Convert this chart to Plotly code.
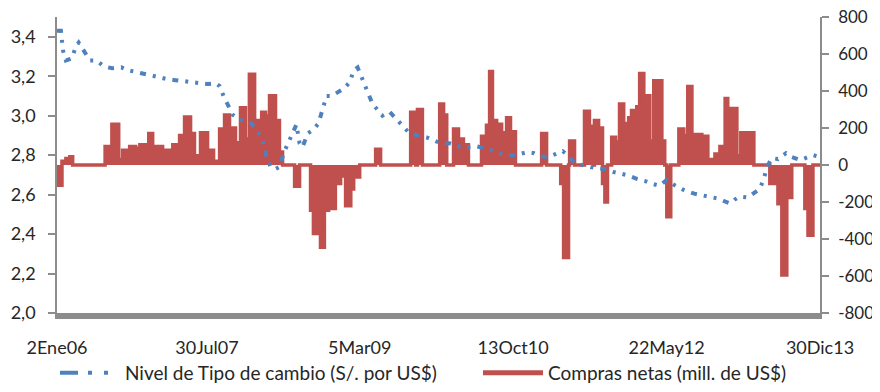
import plotly.graph_objects as go

# ---------------- DATA ----------------
# Exchange rate level (S/. per US$)
fecha_tc = [
    "2006-01-02", "2006-01-17", "2006-01-25", "2006-02-05", "2006-02-28", "2006-03-15", "2006-03-26",
    "2006-04-14", "2006-05-08", "2006-05-31", "2006-07-01", "2006-08-01", "2006-09-05", "2006-10-02",
    "2006-11-01", "2006-12-02", "2007-01-01", "2007-01-30", "2007-03-01", "2007-03-31", "2007-05-01",
    "2007-06-01", "2007-07-02", "2007-08-01", "2007-09-01", "2007-09-16", "2007-10-01", "2007-10-17",
    "2007-11-05", "2007-12-02", "2008-01-01", "2008-01-16", "2008-02-08", "2008-02-27", "2008-03-14",
    "2008-03-29", "2008-04-17", "2008-05-02", "2008-05-18", "2008-06-06", "2008-06-25", "2008-07-06",
    "2008-07-18", "2008-07-29", "2008-08-18", "2008-09-09", "2008-09-28", "2008-10-14", "2008-10-29",
    "2008-11-18", "2008-12-14", "2009-01-06", "2009-01-26", "2009-02-10", "2009-02-25", "2009-03-08",
    "2009-03-16", "2009-04-04", "2009-04-23", "2009-05-12", "2009-05-31", "2009-06-27", "2009-07-24",
    "2009-08-16", "2009-09-12", "2009-10-13", "2009-11-16", "2009-12-13", "2010-01-09", "2010-02-12",
    "2010-03-15", "2010-04-19", "2010-05-24", "2010-06-27", "2010-08-04", "2010-09-11", "2010-10-20",
    "2010-12-05", "2011-01-01", "2011-01-23", "2011-02-22", "2011-04-02", "2011-04-21", "2011-05-10",
    "2011-05-29", "2011-06-17", "2011-07-14", "2011-08-21", "2011-09-29", "2011-10-29", "2011-12-03",
    "2012-01-01", "2012-01-29", "2012-02-28", "2012-03-27", "2012-04-26", "2012-05-23", "2012-06-19",
    "2012-07-24", "2012-09-05", "2012-10-28", "2012-12-06", "2013-01-01", "2013-01-19", "2013-02-07",
    "2013-02-26", "2013-03-29", "2013-04-24", "2013-05-14", "2013-05-29", "2013-06-10", "2013-06-29",
    "2013-07-22", "2013-08-22", "2013-09-14", "2013-10-15", "2013-11-15", "2013-12-04", "2013-12-30",
]
tipo_cambio = [
    3.43, 3.43, 3.33, 3.28, 3.29, 3.35, 3.37,
    3.33, 3.28, 3.28, 3.25, 3.24, 3.245, 3.23,
    3.22, 3.21, 3.20, 3.19, 3.185, 3.18, 3.175,
    3.17, 3.165, 3.16, 3.165, 3.15, 3.10, 3.06,
    3.005, 2.98, 2.97, 2.96, 2.92, 2.88, 2.79,
    2.74, 2.73, 2.74, 2.81, 2.87, 2.92, 2.955,
    2.86, 2.84, 2.91, 2.93, 2.96, 3.04, 3.10,
    3.10, 3.12, 3.14, 3.17, 3.23, 3.245, 3.21,
    3.19, 3.13, 3.06, 3.03, 3.00, 3.02, 2.98,
    2.95, 2.91, 2.90, 2.89, 2.875, 2.86, 2.86,
    2.845, 2.84, 2.845, 2.835, 2.82, 2.80, 2.80,
    2.815, 2.81, 2.795, 2.79, 2.81, 2.82, 2.80,
    2.77, 2.755, 2.745, 2.735, 2.73, 2.715, 2.705,
    2.695, 2.68, 2.67, 2.655, 2.645, 2.675, 2.65,
    2.625, 2.605, 2.59, 2.58, 2.565, 2.555, 2.575,
    2.59, 2.585, 2.61, 2.63, 2.68, 2.74, 2.785,
    2.78, 2.81, 2.79, 2.775, 2.79, 2.80, 2.79,
]

# Net purchases (mill. US$): value holds from each date until the next one
fecha_compras = [
    "2006-01-02", "2006-01-21", "2006-02-05", "2006-02-20", "2006-03-03", "2006-07-05", "2006-07-31",
    "2006-08-26", "2006-09-10", "2006-09-30", "2006-10-07", "2006-10-30", "2006-11-15", "2006-12-11",
    "2006-12-19", "2007-01-03", "2007-02-10", "2007-03-21", "2007-04-16", "2007-05-05", "2007-05-28",
    "2007-06-12", "2007-07-05", "2007-08-01", "2007-08-24", "2007-09-16", "2007-10-05", "2007-10-24",
    "2007-11-16", "2007-12-05", "2007-12-24", "2008-01-08", "2008-01-28", "2008-02-16", "2008-02-24",
    "2008-03-10", "2008-03-25", "2008-04-17", "2008-05-02", "2008-05-14", "2008-06-29", "2008-07-18",
    "2008-08-29", "2008-09-09", "2008-10-06", "2008-10-21", "2008-11-06", "2008-12-02", "2008-12-22",
    "2009-01-10", "2009-01-30", "2009-02-10", "2009-03-05", "2009-05-05", "2009-05-24", "2009-09-16",
    "2009-10-05", "2009-10-12", "2009-10-31", "2010-01-05", "2010-01-20", "2010-02-01", "2010-02-27",
    "2010-03-18", "2010-04-06", "2010-04-25", "2010-06-14", "2010-07-03", "2010-07-15", "2010-07-26",
    "2010-08-11", "2010-08-30", "2010-09-18", "2010-10-03", "2010-10-22", "2011-01-30", "2011-02-18",
    "2011-04-13", "2011-04-24", "2011-05-13", "2011-05-17", "2011-06-05", "2011-07-13", "2011-08-01",
    "2011-08-17", "2011-08-20", "2011-09-05", "2011-09-20", "2011-09-29", "2011-10-09", "2011-10-25",
    "2011-11-09", "2011-11-24", "2011-12-10", "2011-12-29", "2012-01-09", "2012-01-29", "2012-02-09",
    "2012-02-25", "2012-03-07", "2012-03-19", "2012-04-03", "2012-05-04", "2012-05-15", "2012-05-23",
    "2012-06-07", "2012-07-08", "2012-07-27", "2012-08-11", "2012-08-27", "2012-10-04", "2012-10-27",
    "2012-11-23", "2012-12-12", "2013-01-01", "2013-01-11", "2013-01-23", "2013-02-15", "2013-03-02",
    "2013-04-21", "2013-06-21", "2013-07-10", "2013-07-22", "2013-08-06", "2013-08-25", "2013-09-13",
    "2013-11-02", "2013-11-14", "2013-12-03", "2013-12-30",
]
compras_netas = [
    -110, 20, 35, 45, 0, 100, 220,
    30, 80, 30, 100, 90, 110, 50,
    170, 100, 80, 110, 160, 260, 170,
    50, 175, 80, 20, 195, 270, 200,
    120, 310, 140, 490, 240, 70, 285,
    265, 375, 240, 70, 0, -115, 0,
    -245, -370, -445, -245, -235, -100, -60,
    -220, -130, -65, 0, 85, 0, 285,
    0, 300, 0, 330, 270, 0, 195,
    140, 110, 0, 155, 215, 505, 240,
    220, 175, 255, 180, 0, 170, 0,
    -100, -500, 0, 130, 0, 290, 210,
    0, 240, 200, -100, -200, 0, 150,
    125, 330, 225, 255, 295, 315, 495,
    295, 375, 130, 455, 130, 0, -280,
    0, 195, 160, 425, 165, 155, 30,
    60, 100, 360, 60, 305, 50, 175,
    0, -100, -40, -210, -595, -175, 0,
    -235, -380, 0, 0,
]

# Axis ticks
fechas_eje = ["2006-01-02", "2007-07-30", "2009-03-05", "2010-10-13", "2012-05-22", "2013-12-30"]
etiquetas_eje = ["2Ene06", "30Jul07", "5Mar09", "13Oct10", "22May12", "30Dic13"]
ticks_tc = [2.0, 2.2, 2.4, 2.6, 2.8, 3.0, 3.2, 3.4]
etiquetas_tc = ["2,0", "2,2", "2,4", "2,6", "2,8", "3,0", "3,2", "3,4"]
ticks_compras = [-800, -600, -400, -200, 0, 200, 400, 600, 800]
etiquetas_compras = ["-800", "-600", "-400", "-200", "0", "200", "400", "600", "800"]

nombre_tc = "Nivel de Tipo de cambio (S/. por US$)"
nombre_compras = "Compras netas (mill. de US$)"

# ---------------- STYLE ----------------
AZUL = "#4F81BD"
ROJO = "#C0504D"
GRIS = "#8C8C8C"
TEXTO = "#262626"
FONT = "Lato"
OFF = 8                      # default page body margin around the figure
W, H = 880 - OFF, 392 - 2 * OFF   # keep the page free of scrollbars

fig = go.Figure()

fig.add_trace(go.Scatter(
    x=fecha_compras, y=compras_netas, yaxis="y",
    mode="lines", line=dict(color=ROJO, width=3.5, shape="hv"),
    fill="tozeroy", fillcolor=ROJO, showlegend=False, hoverinfo="skip",
))
fig.add_trace(go.Scatter(
    x=fecha_tc, y=tipo_cambio, yaxis="y2",
    mode="lines", line=dict(color=AZUL, width=4, dash="6px,7px,3px,7px,3px,7px"),
    showlegend=False, hoverinfo="skip",
))
# legend entries
fig.add_trace(go.Scatter(
    x=[None], y=[None], yaxis="y2", mode="lines", name=nombre_tc, legend="legend",
    line=dict(color=AZUL, width=4, dash="18px,10px,4px,12px,4px,12px"),
))
fig.add_trace(go.Scatter(
    x=[None], y=[None], yaxis="y", mode="lines", name=nombre_compras, legend="legend2",
    line=dict(color=ROJO, width=5),
))

leg_common = dict(
    orientation="h", xref="container", yref="container", yanchor="middle",
    xanchor="left", itemwidth=60, font=dict(size=19, color=TEXTO),
    bgcolor="rgba(0,0,0,0)",
)

left, top, right, bottom = 57 - OFF, 17 - OFF, 820 - OFF, 313 - OFF

fig.update_layout(
    width=W, height=H,
    margin=dict(l=left, r=W - right, t=top, b=H - bottom, autoexpand=False),
    paper_bgcolor="white", plot_bgcolor="white",
    font=dict(family=FONT, size=18, color=TEXTO),
    xaxis=dict(
        type="date", range=["2006-01-02", "2013-12-30"],
        tickmode="array", tickvals=fechas_eje, ticktext=etiquetas_eje,
        ticks="", showgrid=False, zeroline=False,
        showline=True, linecolor=GRIS, linewidth=6,
        ticklabelstandoff=13,
    ),
    yaxis=dict(
        side="right", range=[-800, 800],
        tickmode="array", tickvals=ticks_compras, ticktext=etiquetas_compras,
        ticks="outside", ticklen=7, tickcolor=GRIS, tickwidth=1.5,
        showline=True, linecolor=GRIS, linewidth=1.5,
        showgrid=False, zeroline=False, ticklabelstandoff=6,
        ticklabeloverflow="allow", tickfont=dict(size=17),
    ),
    yaxis2=dict(
        side="left", overlaying="y", range=[2.0, 3.5],
        tickmode="array", tickvals=ticks_tc, ticktext=etiquetas_tc,
        ticks="outside", ticklen=7, tickcolor=GRIS, tickwidth=1.5,
        showline=True, linecolor=GRIS, linewidth=1.5,
        showgrid=False, zeroline=False, ticklabelstandoff=9,
    ),
    legend=dict(x=(55 - OFF) / W, y=1 - (373 - OFF) / H, **leg_common),
    legend2=dict(x=(478 - OFF) / W, y=1 - (373 - OFF) / H, **leg_common),
)

fig.write_html("out.html")
